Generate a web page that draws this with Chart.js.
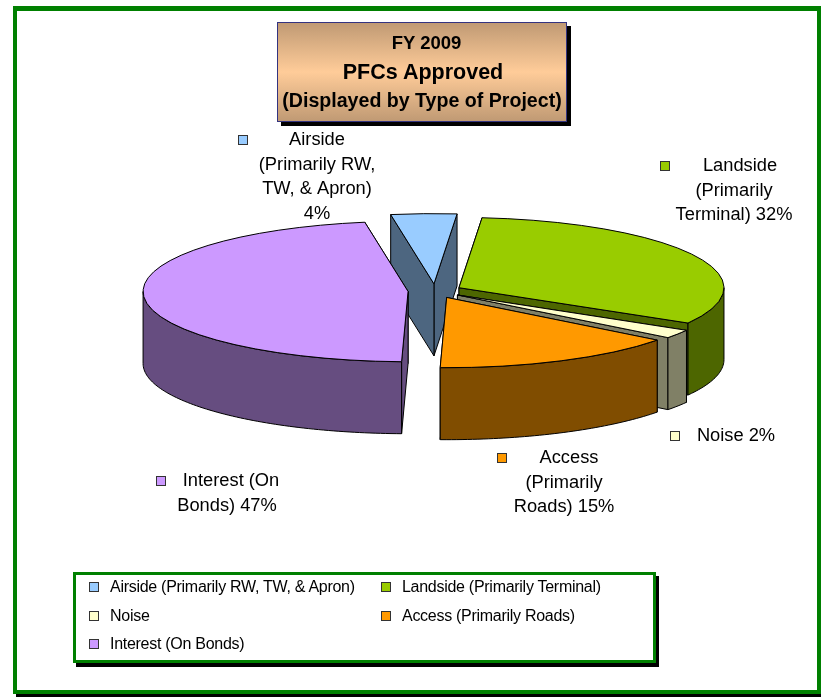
<!DOCTYPE html>
<html>
<head>
<meta charset="utf-8">
<title>FY 2009 PFCs Approved</title>
<script src="https://cdn.jsdelivr.net/npm/chart.js@4/dist/chart.umd.min.js"></script>
<style>
    html, body { margin: 0; padding: 0; background: #fff; }
    body { position: relative; width: 821px; height: 697px; overflow: hidden; font-family: "Liberation Sans", Arial, sans-serif; color: #000; }
    #pie { position: absolute; left: 0; top: 0; }
    #frame { position: absolute; left: 13px; top: 6px; width: 800px; height: 679px; border: 4px solid #008000; border-top-width: 5px; box-shadow: 3px 3px 0 #000; }
    #title { position: absolute; left: 277px; top: 22px; width: 288px; height: 98px; border: 1px solid #333380; box-shadow: 4px 4px 0 #000;
        background: linear-gradient(#c09a74, #ffcc99 50%, #c09a74); text-align: center; font-weight: bold; line-height: 28.5px; }
    #title div { white-space: nowrap; }
    #title div:nth-child(1) { margin-top: 6px; font-size: 18.5px; padding-left: 9px; }
    #title div:nth-child(2) { font-size: 21.5px; padding-left: 2px; }
    #title div:nth-child(3) { font-size: 19.6px; }
    #legend { position: absolute; left: 73px; top: 572px; width: 577px; height: 85px; border: 3px solid #008000; box-shadow: 3px 4px 0 #000; background: #fff; font-size: 16px; }
    #legend .item { position: absolute; white-space: nowrap; line-height: 16px; letter-spacing: -0.28px; }
    #legend .box { position: absolute; left: -21px; top: 3px; width: 8px; height: 8px; border: 1px solid #333; }
</style>
</head>
<body>
<div id="frame"></div>
<canvas id="pie" width="821" height="697"></canvas>
<div id="title"></div>
<div id="legend"></div>
<script>
const titleLines = ['FY 2009', 'PFCs Approved', '(Displayed by Type of Project)'];
const categories = ['Airside (Primarily RW, TW, & Apron)', 'Landside (Primarily Terminal)', 'Noise', 'Access (Primarily Roads)', 'Interest (On Bonds)'];
const shares = [4, 32, 2, 15, 47];
const labelLines = [
    ['Airside', '(Primarily RW,', 'TW, & Apron)', '4%'],
    ['Landside', '(Primarily', 'Terminal) 32%'],
    ['Noise 2%'],
    ['Access', '(Primarily', 'Roads) 15%'],
    ['Interest (On', 'Bonds) 47%']
];

const topColors = ['#99ccff', '#99cc00', '#ffffcc', '#ff9900', '#cc99ff'];
const wallColors = ['#4d6680', '#4d6600', '#808066', '#804d00', '#664d80'];

// squash and extrusion of the fake 3d pie
const tilt = 0.265;
const depth = 72;
const explode = 27;

// where each label block sits: centre x of the lines, centre x of first line, y of first line, marker x
const labelPlaces = [
    { x: 317, first: 317, y: 140, marker: 243 },
    { x: 734, first: 740, y: 166, marker: 665 },
    { x: 736, first: 736, y: 436, marker: 675 },
    { x: 564, first: 569, y: 458, marker: 502 },
    { x: 227, first: 231, y: 481, marker: 161 }
];
const labelLineHeight = 24.6;

// arc angles come from chart.js, this just projects them on the tilted plane
function rimPoint(arc, angle) {
    const mid = (arc.startAngle + arc.endAngle) / 2;
    const ox = Math.cos(mid) * explode;
    const oy = Math.sin(mid) * explode;
    return {
        x: arc.x + ox + Math.cos(angle) * arc.outerRadius,
        y: arc.y + (oy + Math.sin(angle) * arc.outerRadius) * tilt
    };
}

function apexPoint(arc) {
    const mid = (arc.startAngle + arc.endAngle) / 2;
    return { x: arc.x + Math.cos(mid) * explode, y: arc.y + Math.sin(mid) * explode * tilt };
}

function fillFace(ctx, points, color) {
    ctx.beginPath();
    points.forEach((p, i) => i ? ctx.lineTo(p.x, p.y) : ctx.moveTo(p.x, p.y));
    ctx.closePath();
    ctx.fillStyle = color;
    ctx.fill();
    ctx.stroke();
}

function drawWalls(ctx, arc, color) {
    const apex = apexPoint(arc);
    const down = p => ({ x: p.x, y: p.y + depth });

    const sides = [arc.startAngle, arc.endAngle].map(a => {
        const rim = rimPoint(arc, a);
        return [apex, rim, down(rim), down(apex)];
    });
    sides.sort((a, b) => a[1].y - b[1].y);
    sides.forEach(s => fillFace(ctx, s, color));

    // outer wall, only the part of the rim facing us (sin > 0)
    const turn = Math.PI * 2;
    for (let k = -1; k <= 1; k++) {
        const from = Math.max(arc.startAngle, k * turn);
        const to = Math.min(arc.endAngle, k * turn + Math.PI);
        if (to <= from) continue;
        const pts = [];
        for (let a = from; a < to; a += 0.02) pts.push(rimPoint(arc, a));
        pts.push(rimPoint(arc, to));
        fillFace(ctx, pts.concat(pts.slice().reverse().map(down)), color);
    }
}

const pie3d = {
    id: 'pie3d',
    beforeDatasetDraw(chart, args) {
        const ctx = chart.ctx;
        const arcs = chart.getDatasetMeta(args.index).data;

        ctx.save();
        ctx.strokeStyle = '#000';
        ctx.lineWidth = 1;
        ctx.lineJoin = 'round';
        arcs.forEach((arc, i) => drawWalls(ctx, arc, wallColors[i]));

        arcs.forEach(arc => {
            const apex = apexPoint(arc);
            ctx.save();
            ctx.translate(apex.x, apex.y);
            ctx.scale(1, tilt);
            ctx.translate(-arc.x, -arc.y);
            arc.draw(ctx);
            ctx.beginPath();
            ctx.moveTo(arc.x, arc.y);
            ctx.arc(arc.x, arc.y, arc.outerRadius, arc.startAngle, arc.endAngle);
            ctx.closePath();
            ctx.restore();
            ctx.stroke();
        });
        ctx.restore();
        return false;
    },
    afterDraw(chart) {
        const ctx = chart.ctx;
        ctx.save();
        ctx.font = '18.3px "Liberation Sans", Arial, sans-serif';
        ctx.textAlign = 'center';
        ctx.textBaseline = 'middle';
        labelLines.forEach((lines, i) => {
            const place = labelPlaces[i];
            ctx.fillStyle = '#000';
            lines.forEach((line, n) => ctx.fillText(line, n ? place.x : place.first, place.y + n * labelLineHeight));
            ctx.fillStyle = topColors[i];
            ctx.strokeStyle = '#333';
            ctx.lineWidth = 1;
            ctx.fillRect(place.marker - 4.5, place.y - 4.5, 9, 9);
            ctx.strokeRect(place.marker - 4.5, place.y - 4.5, 9, 9);
        });
        ctx.restore();
    }
};

new Chart(document.getElementById('pie'), {
    type: 'pie',
    data: {
        labels: categories,
        datasets: [{
            data: shares,
            backgroundColor: topColors,
            borderWidth: 0,
            radius: 265
        }]
    },
    options: {
        responsive: false,
        animation: false,
        rotation: -9.4,
        layout: { padding: { left: 49, bottom: 115 } },
        plugins: { legend: { display: false }, title: { display: false }, tooltip: { enabled: false } }
    },
    plugins: [pie3d]
});

document.getElementById('title').innerHTML = titleLines.map(t => `<div>${t}</div>`).join('');

// legend in two columns, same order as the slices
const legendEl = document.getElementById('legend');
categories.forEach((name, i) => {
    const item = document.createElement('div');
    item.className = 'item';
    item.style.left = (i % 2 ? 326 : 34) + 'px';
    item.style.top = (4 + Math.floor(i / 2) * 28.5) + 'px';
    item.innerHTML = `<span class="box" style="background:${topColors[i]}"></span>` + name.replace(/&/g, '&amp;');
    legendEl.appendChild(item);
});
</script>
</body>
</html>
